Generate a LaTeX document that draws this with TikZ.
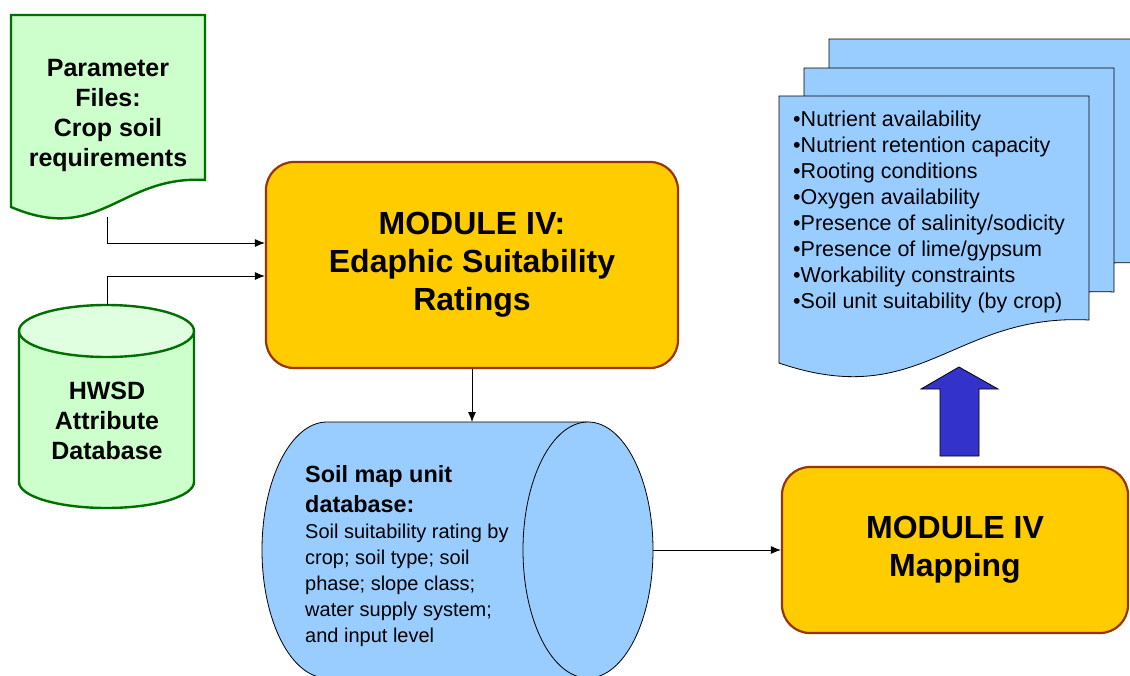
\documentclass[tikz,border=0pt]{standalone}
\usepackage{fontspec}
\setmainfont{Liberation Sans}
\usetikzlibrary{arrows.meta}
\definecolor{docgreen}{RGB}{204,255,204}
\definecolor{lightgreen}{RGB}{224,255,224}
\definecolor{darkgreen}{RGB}{0,110,0}
\definecolor{modyellow}{RGB}{255,204,0}
\definecolor{modbrown}{RGB}{153,51,0}
\definecolor{soilblue}{RGB}{153,204,255}
\definecolor{arrowblue}{RGB}{51,51,204}

\tikzset{
  modbox/.style={rectangle, rounded corners=28pt, draw=modbrown, fill=modyellow, line width=2.2pt, align=center, font=\fontsize{32}{38}\selectfont\bfseries},
  greenline/.style={draw=darkgreen, line width=2.4pt},
  doctext/.style={align=center, font=\fontsize{25}{30}\selectfont\bfseries},
  flow/.style={-{Latex[length=10pt,width=8pt]}, line width=0.9pt},
}

\begin{document}
\begin{tikzpicture}[x=1pt,y=-1pt]
\useasboundingbox (0,0) rectangle (1130,675);
\clip (0,0) rectangle (1130,675);

\coordinate (pfoot) at (107,217);
\coordinate (htop) at (107,305);
\coordinate (smutop) at (472,422);
\coordinate (smueast) at (653,550);

% parameter file
\draw[greenline, fill=docgreen] (11,15) -- (205,15) -- (205,180)
  .. controls (120,175) and (100,245) .. (11,207) -- cycle;
\node[doctext] (param) at (108,115) {Parameter\\Files:\\Crop soil\\requirements};

% HWSD cylinder
\draw[greenline, fill=docgreen] (19,331) -- (19,482) arc (180:360:87.5pt and 26pt) -- (194,331);
\draw[greenline, fill=lightgreen] (106.5,331) ellipse (87.5pt and 26pt);
\node[doctext] (hwsd) at (107,421) {HWSD\\Attribute\\Database};

% module IV
\node[modbox, minimum width=412pt, minimum height=206pt] (modfour) at (472,265) {MODULE IV:\\Edaphic Suitability\\Ratings};

\draw[flow] (pfoot) |- ([yshift=22pt]modfour.west);
\draw[flow] (htop) |- ([yshift=-11pt]modfour.west);
\draw[flow] (modfour.south) -- (smutop);

% soil map unit database
\draw[fill=soilblue, line width=0.8pt] (588,422) -- (327,422) arc (90:270:65pt and 128pt) -- (588,678);
\draw[fill=soilblue, line width=0.8pt] (588,550) ellipse (65pt and 128pt);
\node[anchor=north west, inner sep=0, text width=235pt, align=left, font=\fontsize{20}{26}\selectfont] (smutext) at (305,465)
  {\spaceskip=0pt\xspaceskip=0pt{\fontsize{23.4}{30}\selectfont\bfseries Soil map unit\\database:\par}%
   \fontsize{20}{26}\selectfont Soil suitability rating by\\crop; soil type; soil\\phase; slope class;\\water supply system;\\and input level};

% mapping
\node[modbox, minimum width=346pt, minimum height=166pt] (mapping) at (955,550) {MODULE IV\\Mapping};
\draw[flow] (smueast) -- (mapping.west);

\draw[fill=arrowblue, line width=0.8pt] (940,456) -- (940,389) -- (921,389) -- (959,367)
  -- (998,389) -- (979,389) -- (979,456) -- cycle;

% output pages
\foreach \dx/\dy in {50/-57, 25/-28, 0/0}
  \draw[fill=soilblue, line width=0.8pt, shift={(\dx,\dy)}] (779,96) -- (1089,96) -- (1089,320)
    .. controls (953,313) and (922,412) .. (779,363) -- cycle;
\node[anchor=north west, inner sep=0, align=left, font=\fontsize{21.5}{26}\selectfont] (traits) at (793,111)
  {•Nutrient availability\\•Nutrient retention capacity\\•Rooting conditions\\•Oxygen availability\\•Presence of salinity/sodicity\\•Presence of lime/gypsum\\•Workability constraints\\•Soil unit suitability (by crop)};
\end{tikzpicture}
\end{document}
